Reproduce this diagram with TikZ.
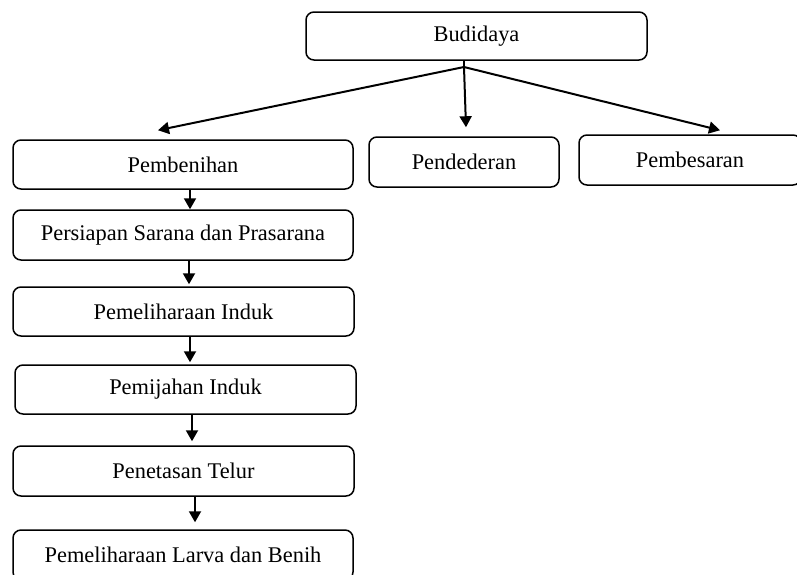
\documentclass[tikz,border=0pt]{standalone}
\usepackage{fontspec}
\setmainfont{Liberation Serif}
\usetikzlibrary{arrows.meta}
\begin{document}
\begin{tikzpicture}[x=0.5pt,y=-0.5pt,
  box/.style={draw,line width=0.75pt,rounded corners=4pt,inner sep=0pt,
    minimum width=170.5pt,minimum height=24.5pt,
    font=\fontsize{11.2}{13}\selectfont},
  arr/.style={line width=1pt,-{Triangle[length=5.5pt,width=6pt]}},
  stem/.style={line width=1pt}]
\path[use as bounding box,clip] (0,0) rectangle (797,574);

% top level
\node[box,minimum width=170.5pt,minimum height=24pt] (bud) at (476.5,36) {Budidaya};

% second level
\node[box,minimum width=170pt] (pbh) at (183,164.5) {Pembenihan};
\node[box,minimum width=95pt,minimum height=25pt] (pdd) at (464,162) {Pendederan};
\node[box,minimum width=111pt,minimum height=25pt] (pbs) at (690,160) {Pembesaran};

% hatchery steps
\node[box,minimum width=170pt,minimum height=25pt] (pss) at (183,235) {Persiapan Sarana dan Prasarana};
\node[box] (pmi) at (183.5,311.5) {Pemeliharaan Induk};
\node[box] (pji) at (185.5,389.5) {Pemijahan Induk};
\node[box,minimum height=25pt] (pnt) at (183.5,471) {Penetasan Telur};
\node[box,minimum width=170pt,minimum height=25pt] (plb) at (183,555) {Pemeliharaan Larva dan Benih};

% branching from Budidaya
\coordinate (J) at (464,67);
\coordinate (tL) at ([shift={(-12.5pt,4.5pt)}]pbh.north);
\coordinate (tM) at ([shift={(1pt,4.5pt)}]pdd.north);
\coordinate (tR) at ([shift={(15pt,2pt)}]pbs.north);
\draw[stem] (bud.south -| J) -- (J);
\draw[arr] (J) -- (tL);
\draw[arr] (J) -- (tM);
\draw[arr] (J) -- (tR);

% chain of hatchery steps
\draw[arr] (pbh.south -| 190,0) -- (pss.north -| 190,0);
\draw[arr] (pss.south -| 189,0) -- ([yshift=1pt]pmi.north -| 189,0);
\draw[arr] (pmi.south -| 190,0) -- ([yshift=1pt]pji.north -| 190,0);
\draw[arr] (pji.south -| 192,0) -- ([yshift=2pt]pnt.north -| 192,0);
\draw[arr] (pnt.south -| 195,0) -- ([yshift=3.5pt]plb.north -| 195,0);
\end{tikzpicture}
\end{document}
